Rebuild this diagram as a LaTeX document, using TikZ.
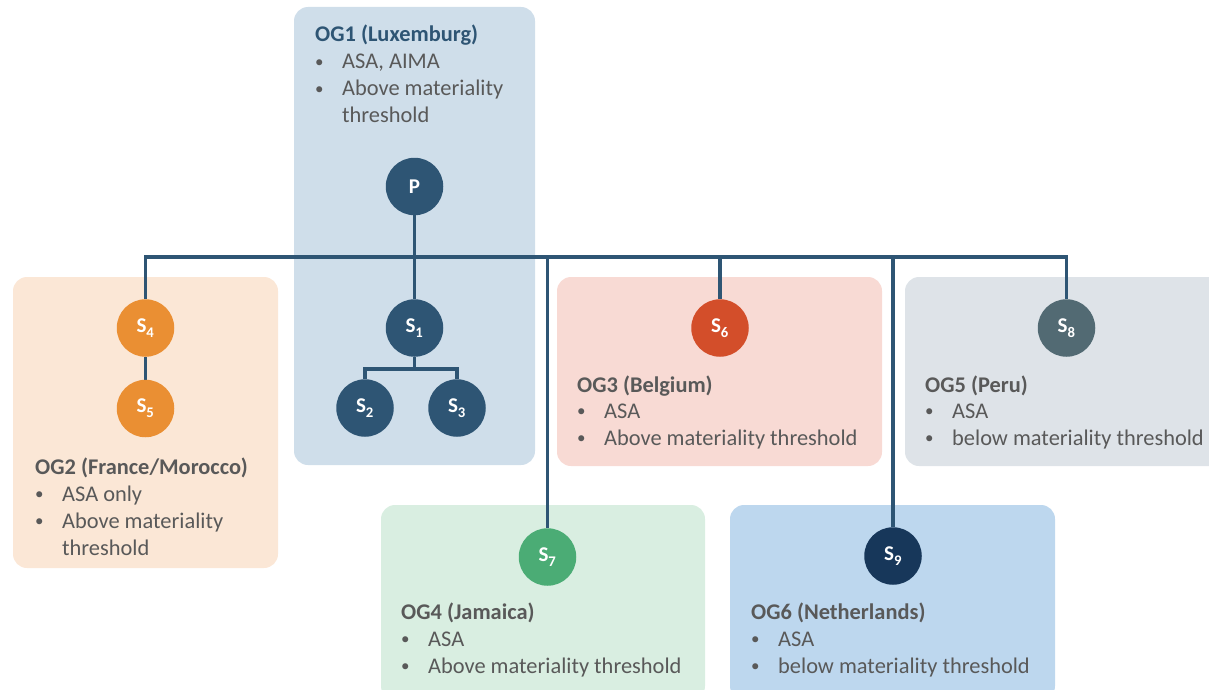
\documentclass[tikz,border=0pt]{standalone}
\usepackage{fontspec}
\setmainfont{Carlito}
\definecolor{linec}{HTML}{2E5574}
\definecolor{txtgray}{HTML}{595959}
\definecolor{bgA}{HTML}{CFDEEA}
\definecolor{bgB}{HTML}{FBE7D6}
\definecolor{bgC}{HTML}{F8DAD4}
\definecolor{bgD}{HTML}{DEE3E8}
\definecolor{bgE}{HTML}{D9EEE1}
\definecolor{bgF}{HTML}{BDD7EE}
\definecolor{cOrange}{HTML}{EA8F33}
\definecolor{cRed}{HTML}{D34E2A}
\definecolor{cGreen}{HTML}{4BAC75}
\definecolor{cGray}{HTML}{526A73}
\definecolor{cNavy}{HTML}{17375A}
\pgfdeclarelayer{boxes}
\pgfdeclarelayer{lines}
\pgfsetlayers{boxes,lines,main}
\tikzset{
  ogbox/.style={rounded corners=14pt, draw=none},
  ent/.style={circle, minimum size=57.5pt, inner sep=0pt, text=white,
    font=\bfseries\fontsize{21}{21}\selectfont},
  conn/.style={draw=linec, line width=3.4pt},
  ogt/.style={anchor=base west, inner sep=0pt, text=txtgray,
    font=\fontsize{22.4}{27}\selectfont},
  ogtitle/.style={ogt, font=\bfseries\fontsize{22.4}{27}\selectfont},
}
\newcommand{\entlabel}[1]{S\textsubscript{\raisebox{-2pt}{#1}}}
\newcommand{\bitem}[4]{%
  \node[ogt] (#1b) at (#2,#3) {\fontsize{17}{17}\selectfont\raisebox{1.6pt}{\textbullet}};
  \node[ogt] (#1) at ({#2+27},#3) {#4};}
\begin{document}
\begin{tikzpicture}[x=1pt,y=-1pt]
\useasboundingbox (0,0) rectangle (1209,690);
% group boxes
\begin{pgfonlayer}{boxes}
\fill[ogbox, bgA] (294,7) rectangle (535,465);
\fill[ogbox, bgB] (13,277) rectangle (278,568);
\fill[ogbox, bgC] (557,277) rectangle (882,466);
\fill[ogbox, bgD] (905,277) rectangle (1230,466);
\fill[ogbox, bgE] (381,505) rectangle (705,700);
\fill[ogbox, bgF] (730,505) rectangle (1055,700);
\end{pgfonlayer}
% entities
\node[ent, fill=linec] (P) at (414.5,186.5) {P};
\node[ent, fill=linec] (S1) at (414.5,328) {\entlabel{1}};
\node[ent, fill=linec] (S2) at (365,408) {\entlabel{2}};
\node[ent, fill=linec] (S3) at (457,408) {\entlabel{3}};
\node[ent, fill=cOrange] (S4) at (145.5,328) {\entlabel{4}};
\node[ent, fill=cOrange] (S5) at (145.5,408.5) {\entlabel{5}};
\node[ent, fill=cRed] (S6) at (720,328) {\entlabel{6}};
\node[ent, fill=cGreen] (S7) at (547.5,557) {\entlabel{7}};
\node[ent, fill=cGray] (S8) at (1066.5,328) {\entlabel{8}};
\node[ent, fill=cNavy] (S9) at (893,556) {\entlabel{9}};
% connectors
\coordinate (busR) at (1066.5,257);
\coordinate (sj) at (414.5,369);
\begin{pgfonlayer}{lines}
\draw[conn] (P) -- (S1);
\draw[conn] (S4.north) |- (busR) -- (S8.north);
\draw[conn] (S6.north) -- (S6.north |- busR);
\draw[conn] (S7.north) -- (S7.north |- busR);
\draw[conn] (S9.north) -- (S9.north |- busR);
\draw[conn] (S4) -- (S5);
\draw[conn] (S1) -- (sj);
\draw[conn] (S2.north) |- (sj) -| (S3.north);
\end{pgfonlayer}
% texts
\node[ogtitle, text=linec] (t1) at (315,42) {OG1 (Luxemburg)};
\bitem{t1a}{315}{69}{ASA, AIMA}
\bitem{t1b}{315}{96}{Above materiality}
\node[ogt] (t1c) at (342,123) {threshold};
\node[ogtitle] (t2) at (35,474) {OG2 (France/Morocco)};
\bitem{t2a}{35}{501}{ASA only}
\bitem{t2b}{35}{528}{Above materiality}
\node[ogt] (t2c) at (62,555) {threshold};
\node[ogtitle] (t3) at (577,392) {OG3 (Belgium)};
\bitem{t3a}{577}{418}{ASA}
\bitem{t3b}{577}{445}{Above materiality threshold}
\node[ogtitle] (t5) at (925,392) {OG5 (Peru)};
\bitem{t5a}{925}{418}{ASA}
\bitem{t5b}{925}{445}{below materiality threshold}
\node[ogtitle] (t4) at (401,619) {OG4 (Jamaica)};
\bitem{t4a}{401}{646}{ASA}
\bitem{t4b}{401}{673}{Above materiality threshold}
\node[ogtitle] (t6) at (751,619) {OG6 (Netherlands)};
\bitem{t6a}{751}{646}{ASA}
\bitem{t6b}{751}{673}{below materiality threshold}
\end{tikzpicture}
\end{document}
